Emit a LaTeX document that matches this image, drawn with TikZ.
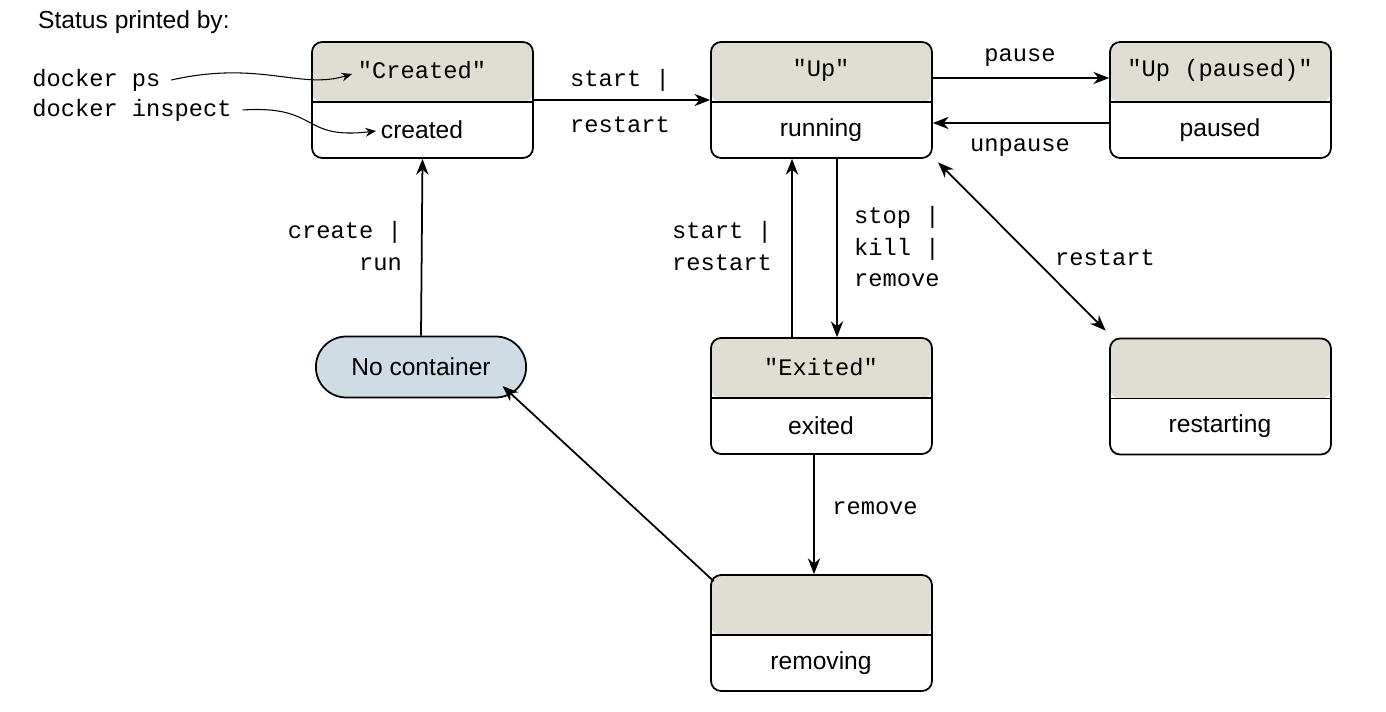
\documentclass[tikz,border=0pt]{standalone}
\usepackage{fontspec}
\setmainfont{Liberation Sans}
\setmonofont{Liberation Mono}
\usetikzlibrary{arrows.meta,shapes.misc}
\definecolor{hdr}{HTML}{E0DED2}
\definecolor{ncf}{HTML}{D0DCE4}
\begin{document}
\begin{tikzpicture}[x=0.02cm,y=-0.02cm,
  box/.style={draw,line width=1pt,rounded corners=0.2cm,minimum width=4.42cm,minimum height=2.32cm,
    path picture={\fill[hdr] (path picture bounding box.north west) rectangle ([yshift=-1.2cm]path picture bounding box.north east);
      \draw[line width=1pt] ([yshift=-1.2cm]path picture bounding box.north west) -- ([yshift=-1.2cm]path picture bounding box.north east);}},
  hl/.style={font=\ttfamily\fontsize{13.5}{16}\selectfont},
  ll/.style={font=\fontsize{14}{16}\selectfont},
  lab/.style={font=\ttfamily\fontsize{13.5}{18}\selectfont,align=left},
  arr/.style={line width=1pt,-{Stealth[length=9pt,width=7pt]}}]
\useasboundingbox (0,0) rectangle (1386,712);
\node[box] (c) at (422.5,100) {};
\node[box] (u) at (821.5,100) {};
\node[box] (p) at (1220.5,100) {};
\node[box] (e) at (821.5,396) {};
\node[box] (r) at (1220.5,396.5) {};
\node[box] (rm) at (821.5,633) {};
\node[draw,line width=1pt,fill=ncf,rounded rectangle,minimum width=4.44cm,minimum height=1.22cm,font=\fontsize{14}{16}\selectfont] (nc) at (421,367) {No container};
\node[hl] (ch) at (422,70) {"Created"};
\node[ll] (cl) at (422,130) {created};
\node[hl] (uh) at (821,70) {"Up"};
\node[ll] (ul) at (821,130) {running};
\node[hl] (ph) at (1220,70) {"Up (paused)"};
\node[ll] (pl) at (1220,130) {paused};
\node[hl] (eh) at (821,367) {"Exited"};
\node[ll] (el) at (821,426) {exited};
\node[ll] (rl) at (1220,426) {restarting};
\node[ll] (rml) at (821,663) {removing};
\node[ll,anchor=west] (st) at (32,22) {Status printed by:};
\node[hl,anchor=west,inner sep=0pt] (dp) at (32,80) {docker ps};
\node[hl,anchor=west,inner sep=0pt] (di) at (32,110) {docker inspect};
\draw[line width=0.6pt,-{Stealth[length=6pt,width=5pt]}] ([xshift=6pt]dp.east) .. controls (260,60) and (300,90) .. (352,74);
\draw[line width=0.6pt,-{Stealth[length=6pt,width=5pt]}] ([xshift=6pt]di.east) .. controls (320,105) and (300,140) .. (376,131);
\draw[arr] (c.east) -- (u.west);
\node[lab] (l1) at (620,80) {start |};
\node[lab] (l2) at (620,125) {restart};
\draw[arr] ([yshift=0.44cm]u.east) -- ([yshift=0.44cm]p.west);
\node[lab] (l3) at (1020,58) {pause};
\draw[arr] ([yshift=-0.46cm]p.west) -- ([yshift=-0.46cm]u.east);
\node[lab] (l4) at (1020,148) {unpause};
\draw[arr] ([xshift=0.31cm]u.south) -- ([xshift=0.31cm]e.north);
\node[lab,anchor=north west] (l5) at (848,200) {stop |\\kill |\\remove};
\draw[arr] ([xshift=-0.59cm]e.north) -- ([xshift=-0.59cm]u.south);
\node[lab,anchor=north east,align=right] (l6) at (778,215) {start |\\restart};
\draw[line width=1pt,{Stealth[length=9pt,width=7pt]}-{Stealth[length=9pt,width=7pt]}] ([xshift=3pt,yshift=-2pt]u.south east) -- ([xshift=-2pt,yshift=4pt]r.north west);
\node[lab] (l7) at (1105,258) {restart};
\draw[arr] (nc.north) -- (c.south);
\node[lab,anchor=north east,align=right] (l8) at (408,215) {create |\\run};
\draw[arr] ([xshift=-0.15cm]e.south) -- ([xshift=-0.15cm]rm.north);
\node[lab] (l9) at (875,508) {remove};
\draw[arr] ([xshift=2pt,yshift=-4pt]rm.north west) -- ([xshift=4pt,yshift=7pt]nc.south east);
\end{tikzpicture}
\end{document}
